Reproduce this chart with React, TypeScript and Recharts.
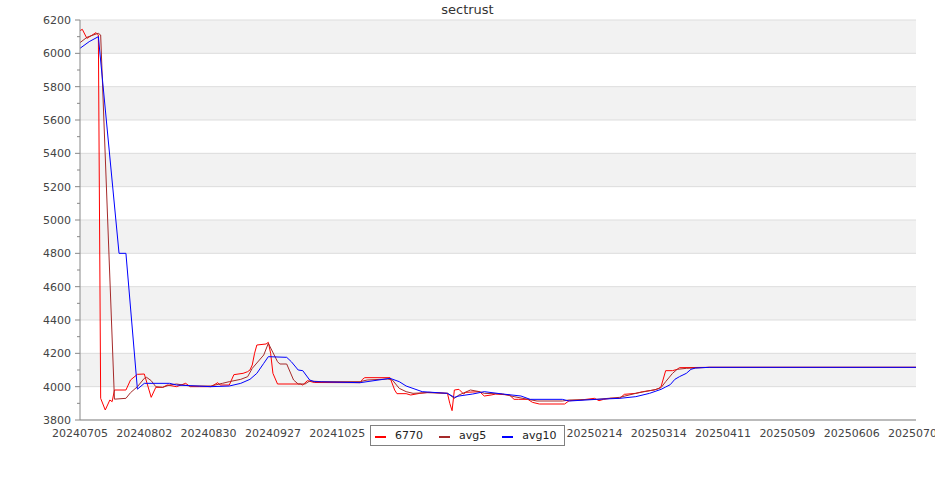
import { LineChart, Line, XAxis, YAxis, CartesianGrid, Legend } from "recharts";

// x is the day offset from 20240705
const tickDays = [0, 28, 56, 84, 112, 140, 168, 196, 224, 252, 280, 308, 336, 364];
const tickLabels = [
  "20240705", "20240802", "20240830", "20240927", "20241025", "20241122", "20241220",
  "20250117", "20250214", "20250314", "20250411", "20250509", "20250606", "20250704",
];

const yMajor = [3800, 4000, 4200, 4400, 4600, 4800, 5000, 5200, 5400, 5600, 5800, 6000, 6200];
const yTicks = [
  3800, 3900, 4000, 4100, 4200, 4300, 4400, 4500, 4600, 4700, 4800, 4900, 5000,
  5100, 5200, 5300, 5400, 5500, 5600, 5700, 5800, 5900, 6000, 6100, 6200,
];

const seriesNames = ["6770", "avg5", "avg10"];

const priceDays = [
  0, 1, 3, 7, 8, 9, 11, 13, 14, 15, 20, 22, 25, 28, 31, 33, 36, 38, 42, 44, 46, 48, 52, 57, 60,
  61, 65, 67, 71, 73, 74, 75, 76, 77, 81, 82, 83, 84, 86, 96, 97, 99, 102, 122, 123, 124, 135,
  137, 138, 142, 144, 148, 152, 160, 161, 162, 163, 165, 167, 168, 174, 176, 179, 181, 187, 189,
  191, 195, 197, 200, 211, 213, 218, 224, 226, 228, 231, 235, 237, 242, 245, 250, 252, 253, 255,
  258, 260, 261, 274, 364,
];
const priceVals = [
  6136, 6144, 6090, 6124, 6110, 3930, 3860, 3920, 3910, 3980, 3980, 4040, 4074, 4076, 3936,
  3996, 3996, 4010, 4000, 4010, 4020, 4000, 4000, 4000, 4024, 4010, 4010, 4072, 4080, 4090,
  4100, 4130, 4200, 4250, 4256, 4266, 4200, 4080, 4016, 4016, 4010, 4036, 4025, 4024, 4044,
  4054, 4054, 3980, 3958, 3958, 3950, 3960, 3966, 3960, 3900, 3856, 3980, 3984, 3956, 3966,
  3970, 3944, 3950, 3956, 3950, 3924, 3924, 3924, 3906, 3896, 3896, 3916, 3920, 3930, 3916,
  3924, 3930, 3930, 3954, 3960, 3970, 3980, 3990, 4000, 4096, 4096, 4104, 4114, 4116, 4116,
];

const avg5Days = [
  0, 3, 7, 8, 9, 15, 20, 22, 25, 28, 29, 31, 33, 36, 39, 42, 48, 57, 62, 65, 70, 73, 75, 80, 82,
  86, 87, 90, 93, 95, 98, 100, 105, 122, 125, 134, 136, 139, 142, 145, 151, 160, 163, 165, 170,
  174, 176, 184, 189, 195, 199, 210, 213, 225, 235, 242, 251, 253, 255, 258, 260, 264, 274, 364,
];
const avg5Vals = [
  6064, 6096, 6116, 6120, 6110, 3925, 3930, 3964, 4000, 4050, 4056, 4036, 4000, 3996, 4010,
  4016, 4004, 4004, 4020, 4030, 4044, 4060, 4110, 4190, 4260, 4150, 4136, 4136, 4040, 4016,
  4016, 4034, 4030, 4030, 4040, 4046, 4040, 3990, 3970, 3960, 3964, 3960, 3930, 3950, 3980,
  3970, 3960, 3956, 3940, 3924, 3914, 3914, 3920, 3924, 3936, 3960, 3984, 3994, 4030, 4080,
  4104, 4110, 4116, 4116,
];

const avg10Days = [
  0, 4, 8, 17, 20, 25, 28, 39, 42, 57, 65, 70, 74, 77, 80, 82, 90, 92, 95, 97, 100, 102, 122,
  135, 139, 142, 149, 160, 163, 165, 171, 176, 184, 192, 196, 210, 213, 225, 235, 242, 248, 253,
  255, 257, 259, 261, 264, 266, 268, 274, 364,
];
const avg10Vals = [
  6030, 6070, 6100, 4800, 4800, 3985, 4020, 4020, 4010, 4000, 4004, 4020, 4044, 4080, 4140,
  4180, 4176, 4150, 4100, 4096, 4040, 4030, 4024, 4050, 4030, 4004, 3970, 3960, 3936, 3944,
  3956, 3970, 3956, 3944, 3924, 3924, 3914, 3924, 3930, 3940, 3960, 3984, 3998, 4012, 4044,
  4060, 4080, 4104, 4112, 4116, 4116,
];

const toPoints = (days: number[], vals: number[]) => days.map((d, i) => ({ d, v: vals[i] }));
const priceData = toPoints(priceDays, priceVals);
const avg5Data = toPoints(avg5Days, avg5Vals);
const avg10Data = toPoints(avg10Days, avg10Vals);

const font = "'DejaVu Sans', sans-serif";

const YTick = (props: any) => {
  const { x, y, payload } = props;
  const major = payload.value % 200 === 0;
  const ax = x + 9;
  return (
    <g>
      <line x1={ax - (major ? 5 : 3)} x2={ax} y1={y} y2={y} stroke="#888" />
      {major && (
        <text x={x} y={y} dy="0.355em" textAnchor="end" fontSize={11} fill="#444" fontFamily={font}>
          {payload.value}
        </text>
      )}
    </g>
  );
};

const renderLegend = (props: any) => {
  // keep the order the series were drawn in
  const items = [...props.payload].sort(
    (a: any, b: any) => seriesNames.indexOf(a.value) - seriesNames.indexOf(b.value)
  );
  return (
    <div
      style={{
        display: "flex",
        alignItems: "center",
        height: 19,
        padding: "0 8px 0 4px",
        border: "1px solid #808080",
        background: "#fff",
        fontFamily: font,
        fontSize: 11,
        color: "#222",
        whiteSpace: "nowrap",
      }}
    >
      {items.map((p: any, i: number) => (
        <span key={p.value} style={{ display: "flex", alignItems: "center", marginLeft: i ? 16 : 0 }}>
          <span style={{ width: 11, height: 2, background: p.color, marginRight: 9, marginTop: 3 }} />
          <span>{p.value}</span>
        </span>
      ))}
    </div>
  );
};

export default function App() {
  return (
    <div style={{ position: "absolute", left: 0, top: 0, width: 935, height: 500 }}>
      <div
        style={{
          position: "absolute",
          top: 2,
          left: 0,
          width: 935,
          textAlign: "center",
          fontFamily: font,
          fontSize: 13,
          lineHeight: "16px",
          color: "#333",
          zIndex: 2,
        }}
      >
        sectrust
      </div>
      <LineChart width={935} height={500} margin={{ top: 20, right: 19, left: 0, bottom: 50 }}>
        <CartesianGrid
          vertical={false}
          stroke="#dddddd"
          horizontalValues={yMajor}
          horizontalFill={["#f2f2f2", "#ffffff"]}
          fillOpacity={1}
        />
        <XAxis
          dataKey="d"
          type="number"
          domain={[0, 364]}
          ticks={tickDays}
          interval={0}
          tickFormatter={(d: number) => tickLabels[tickDays.indexOf(d)]}
          stroke="#888"
          tickLine={{ stroke: "transparent" }}
          tickSize={5}
          tickMargin={4}
          height={30}
          tick={{ fontSize: 11, fill: "#444", fontFamily: font }}
        />
        <YAxis
          type="number"
          domain={[3800, 6200]}
          ticks={yTicks}
          interval={0}
          width={80}
          stroke="#888"
          tickLine={{ stroke: "transparent" }}
          tickSize={5}
          tickMargin={4}
          tick={<YTick />}
        />
        <Legend
          layout="horizontal"
          verticalAlign="middle"
          content={renderLegend}
          wrapperStyle={{ left: 370, top: 425, width: "auto", height: 21 }}
        />
        <Line data={priceData} dataKey="v" name="6770" stroke="#ff0000" strokeWidth={1} dot={false} type="linear" isAnimationActive={false} />
        <Line data={avg5Data} dataKey="v" name="avg5" stroke="#a52a2a" strokeWidth={1} dot={false} type="linear" isAnimationActive={false} />
        <Line data={avg10Data} dataKey="v" name="avg10" stroke="#0000ff" strokeWidth={1} dot={false} type="linear" isAnimationActive={false} />
      </LineChart>
    </div>
  );
}
